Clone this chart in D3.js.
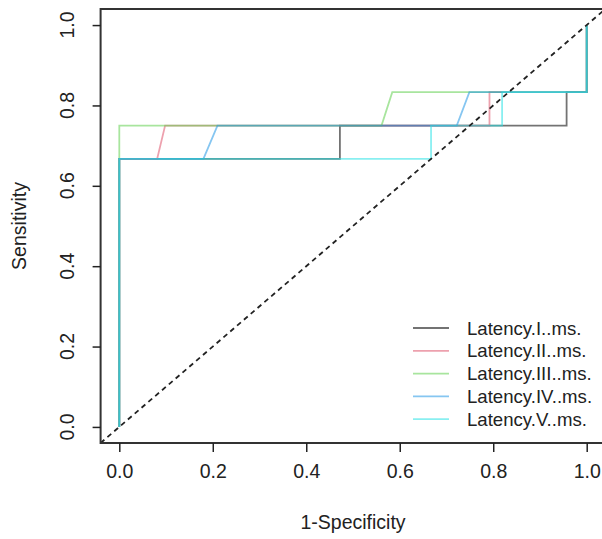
<!DOCTYPE html>
<html>
<head>
<meta charset="utf-8">
<script src="https://cdn.jsdelivr.net/npm/d3@7"></script>
<style>
  body { margin: 0; background: #fff; }
  svg { display: block; font-family: 'Liberation Sans', Arial, sans-serif; }
</style>
</head>
<body>
<div id="chart"></div>
<script>
// ROC curves, one per latency measure
const seriesNames = ['Latency.I..ms.', 'Latency.II..ms.', 'Latency.III..ms.', 'Latency.IV..ms.', 'Latency.V..ms.']
const seriesColors = ['#000000', '#DF536B', '#61D04F', '#2297E6', '#28E2E5']

const fprI = [0, 0, 0.472, 0.472, 0.957, 0.957, 1, 1]
const tprI = [0, 0.667, 0.667, 0.75, 0.75, 0.833, 0.833, 1]

const fprII = [0, 0, 0.081, 0.098, 0.792, 0.792, 1, 1]
const tprII = [0, 0.667, 0.667, 0.75, 0.75, 0.833, 0.833, 1]

const fprIII = [0, 0, 0, 0.561, 0.584, 1, 1]
const tprIII = [0, 0.667, 0.75, 0.75, 0.833, 0.833, 1]

const fprIV = [0, 0, 0.18, 0.21, 0.722, 0.749, 1, 1]
const tprIV = [0, 0.667, 0.667, 0.75, 0.75, 0.833, 0.833, 1]

const fprV = [0, 0, 0.667, 0.667, 0.819, 0.819, 1, 1]
const tprV = [0, 0.667, 0.667, 0.75, 0.75, 0.833, 0.833, 1]

const xTicks = [0, 0.2, 0.4, 0.6, 0.8, 1.0]
const yTicks = [0, 0.2, 0.4, 0.6, 0.8, 1.0]

const fprs = [fprI, fprII, fprIII, fprIV, fprV]
const tprs = [tprI, tprII, tprIII, tprIV, tprV]

const width = 602
const height = 539
const plot = { LEFT: 100.6, RIGHT: 605.4, TOP: 9, BOTTOM: 443 }

const svg = d3.select('#chart')
  .append('svg')
  .attr('width', width)
  .attr('height', height)

// R style: 4% padding on each side of the data range
const x = d3.scaleLinear().domain([-0.04, 1.04]).range([plot.LEFT, plot.RIGHT])
const y = d3.scaleLinear().domain([-0.04, 1.04]).range([plot.BOTTOM, plot.TOP])

const clip = svg.append('clipPath').attr('id', 'plotclip')
  .append('rect')
  .attr('x', plot.LEFT)
  .attr('y', plot.TOP)
  .attr('width', plot.RIGHT - plot.LEFT)
  .attr('height', plot.BOTTOM - plot.TOP)

const line = d3.line().x(d => x(d[0])).y(d => y(d[1]))

const curves = svg.append('g').attr('clip-path', 'url(#plotclip)')

seriesNames.forEach((name, i) => {
  const pts = fprs[i].map((f, j) => [f, tprs[i][j]])
  curves.append('path')
    .datum(pts)
    .attr('d', line)
    .attr('fill', 'none')
    .attr('stroke', seriesColors[i])
    .attr('stroke-opacity', 0.55)
    .attr('stroke-width', 1.8)
})

// chance line
curves.append('path')
  .datum([[-0.04, -0.04], [1.04, 1.04]])
  .attr('d', line)
  .attr('fill', 'none')
  .attr('stroke', '#222')
  .attr('stroke-width', 1.8)
  .attr('stroke-dasharray', '5,4')

// box
svg.append('rect')
  .attr('x', plot.LEFT)
  .attr('y', plot.TOP)
  .attr('width', plot.RIGHT - plot.LEFT)
  .attr('height', plot.BOTTOM - plot.TOP)
  .attr('fill', 'none')
  .attr('stroke', '#333')
  .attr('stroke-width', 2)

// x axis
const xAxis = g =>
  g.attr('transform', `translate(0, ${plot.BOTTOM})`)
    .call(d3.axisBottom(x).tickValues(xTicks).tickFormat(d3.format('.1f')).tickSize(9).tickPadding(12))
    .call(g => g.select('.domain').remove())
    .call(g => g.selectAll('line').attr('stroke', '#222').attr('stroke-width', 1.5))
    .call(g => g.selectAll('text').attr('fill', '#222').attr('font-size', 19.5).attr('font-family', 'Liberation Sans, Arial, sans-serif'))

svg.append('g').call(xAxis)

// y axis (rotated labels like R's default las = 0)
const yAxis = g =>
  g.attr('transform', `translate(${plot.LEFT}, 0)`)
    .call(d3.axisLeft(y).tickValues(yTicks).tickFormat('').tickSize(8))
    .call(g => g.select('.domain').remove())
    .call(g => g.selectAll('line').attr('stroke', '#222').attr('stroke-width', 1.5))

svg.append('g').call(yAxis)

svg.append('g')
  .selectAll('text')
  .data(yTicks)
  .join('text')
  .attr('transform', d => `translate(74, ${y(d)}) rotate(-90)`)
  .attr('text-anchor', 'middle')
  .attr('fill', '#222')
  .attr('font-size', 19.5)
  .text(d3.format('.1f'))

// axis titles
svg.append('text')
  .attr('x', (plot.LEFT + plot.RIGHT) / 2)
  .attr('y', 529)
  .attr('text-anchor', 'middle')
  .attr('fill', '#222')
  .attr('font-size', 19.5)
  .text('1-Specificity')

svg.append('text')
  .attr('transform', `translate(26, ${(plot.TOP + plot.BOTTOM) / 2}) rotate(-90)`)
  .attr('text-anchor', 'middle')
  .attr('fill', '#222')
  .attr('font-size', 19.5)
  .text('Sensitivity')

// legend, no box
const legend = svg.append('g')
  .selectAll('g')
  .data(seriesNames)
  .join('g')
  .attr('transform', (d, i) => `translate(413, ${328 + i * 22.8})`)

legend.append('line')
  .attr('x1', 0)
  .attr('x2', 36)
  .attr('stroke', (d, i) => seriesColors[i])
  .attr('stroke-opacity', 0.55)
  .attr('stroke-width', 1.8)

legend.append('text')
  .attr('x', 54)
  .attr('y', 6.5)
  .attr('fill', '#222')
  .attr('font-size', 18.6)
  .text(d => d)
</script>
</body>
</html>
